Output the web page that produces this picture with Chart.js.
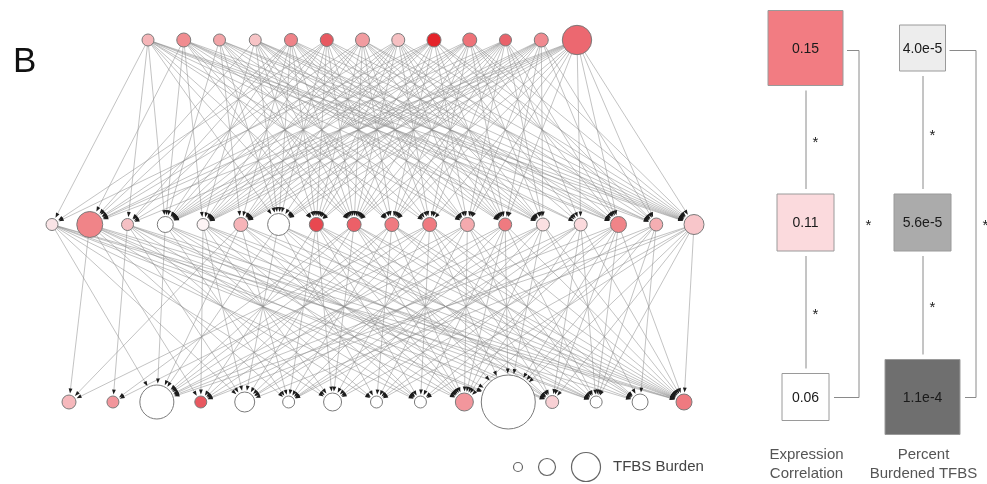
<!DOCTYPE html>
<html>
<head>
<meta charset="utf-8">
<script src="https://cdn.jsdelivr.net/npm/chart.js@4.4.1/dist/chart.umd.min.js"></script>
<style>
  html, body { margin: 0; padding: 0; background: #fff; }
  #wrap { width: 987px; height: 484px; }
</style>
</head>
<body>
<div id="wrap"><canvas id="net" width="987" height="484"></canvas></div>
<script>
// node burden (drawn as bubble radius) per layer
const topBurden = [6, 7, 6, 6, 6.5, 6.5, 7, 6.5, 7, 7, 6, 7, 14.7];
const midBurden = [6, 13, 6, 8, 6, 7, 11, 7, 7, 7, 7, 7, 6.5, 6.5, 6.5, 8, 6.5, 10];
const botBurden = [7, 6, 17, 6, 10, 6, 9, 6, 6, 9, 27, 6.5, 6, 8, 8];

// node fill (expression correlation shade)
const topColors = ['#f5b5b8', '#f08c90', '#f3a5a8', '#f7c4c6', '#ef8288', '#e85860', '#f19ca0',
  '#f6c0c2', '#e4242a', '#ee7278', '#e9626a', '#f08a90', '#ec6870'];
const midColors = ['#fae4e6', '#f08488', '#f5c0c4', '#ffffff', '#fdf4f5', '#f6b4b8', '#ffffff',
  '#e84850', '#ec6068', '#ef7a80', '#ef7a80', '#f4aaae', '#ef7a80', '#fbe0e2', '#fbdadd',
  '#f08488', '#f5aeb2', '#f8c6ca'];
const botColors = ['#f6b8bc', '#f2969c', '#ffffff', '#e85860', '#ffffff', '#ffffff', '#ffffff',
  '#ffffff', '#ffffff', '#f2969c', '#ffffff', '#f8d0d4', '#ffffff', '#ffffff', '#ee7a80'];

// regulatory edges, one string per source node (1 = edge to that target)
const topToMid = [
  '101100111011010111',
  '010110011101011101',
  '000101101110101011',
  '010010111101110111',
  '011101111011110101',
  '101110111101110101',
  '010111011110111011',
  '010111111011110101',
  '101111011101101011',
  '010111101110110111',
  '010111111111011101',
  '000111111101110110',
  '011111101111101111'
];
const midToBot = [
  '001010101011011',
  '100101010110101',
  '010010101001101',
  '001001010101010',
  '000110101010101',
  '101001001100101',
  '001010010101011',
  '000101101101101',
  '011010100111011',
  '001101010100111',
  '101010101011011',
  '010101010101101',
  '001010101110101',
  '001011010110011',
  '000101100101101',
  '001001011011101',
  '000100100110110',
  '001010011011101'
];

// summary panel
const levels = ['top', 'middle', 'bottom'];
const exprCorr = [0.15, 0.11, 0.06];
const pctBurden = [4.0e-5, 5.6e-5, 1.1e-4];
const colLabels = [['Expression', 'Correlation'], ['Percent', 'Burdened TFBS']];

// styles for the panel boxes
const exprBox = { side: [75, 57, 47], fill: ['#f27c82', '#fbdadd', '#ffffff'] };
const pctBox = { side: [46, 57, 75], fill: ['#ededed', '#ababab', '#6f6f6f'] };

const W = 987, H = 484;
// linear axis range so that value v0 lands on pixel p0 and v1 on p1
function span(v0, p0, v1, p1, total) {
  const u = (p1 - p0) / (v1 - v0);
  const min = v0 - p0 / u;
  return { min: min, max: min + total / u };
}
const FONT = '"Liberation Sans", Arial, sans-serif';

function drawEdges(ctx, rows, src, tgt, targetR) {
  const heads = [];
  ctx.save();
  ctx.strokeStyle = 'rgba(140,140,140,0.7)';
  ctx.lineWidth = 0.75;
  rows.forEach((row, i) => {
    const x0 = src.x.getPixelForValue(i), y0 = src.y.getPixelForValue(src.lvl);
    [...row].forEach((c, j) => {
      if (c !== '1') return;
      const x1 = tgt.x.getPixelForValue(j), y1 = tgt.y.getPixelForValue(tgt.lvl);
      const dx = x1 - x0, dy = y1 - y0, L = Math.hypot(dx, dy);
      const ux = dx / L, uy = dy / L;
      const r = targetR[j] + 1.5;
      const ex = x1 - ux * r, ey = y1 - uy * r;
      ctx.beginPath();
      ctx.moveTo(x0, y0);
      ctx.lineTo(ex - ux * 3, ey - uy * 3);
      ctx.stroke();
      heads.push([ex, ey, ux, uy]);
    });
  });
  ctx.fillStyle = '#1c1c1c';
  heads.forEach(([x, y, ux, uy]) => {
    ctx.beginPath();
    ctx.moveTo(x, y);
    ctx.lineTo(x - ux * 5 - uy * 1.9, y - uy * 5 + ux * 1.9);
    ctx.lineTo(x - ux * 5 + uy * 1.9, y - uy * 5 - ux * 1.9);
    ctx.closePath();
    ctx.fill();
  });
  ctx.restore();
}

const edgePlugin = {
  id: 'edges',
  beforeDatasetsDraw(chart) {
    const s = chart.scales;
    const top = { x: s.xt, y: s.y, lvl: 0 };
    const mid = { x: s.xm, y: s.y, lvl: 1 };
    const bot = { x: s.xb, y: s.yb, lvl: 2 };
    drawEdges(chart.ctx, topToMid, top, mid, midBurden);
    drawEdges(chart.ctx, midToBot, mid, bot, botBurden);
  }
};

const panelPlugin = {
  id: 'panel',
  afterDatasetsDraw(chart) {
    const ctx = chart.ctx;
    const xp = chart.scales.xp, yp = chart.scales.yp;
    ctx.save();

    // panel letter
    ctx.fillStyle = '#111';
    ctx.font = '35px ' + FONT;
    ctx.textBaseline = 'alphabetic';
    ctx.textAlign = 'left';
    ctx.fillText('B', 13, 72);

    const cols = [
      { vals: exprCorr.map(v => v.toFixed(2)), box: exprBox },
      { vals: pctBurden.map(v => v.toExponential(1)), box: pctBox }
    ];
    cols.forEach((col, ci) => {
      const cx = xp.getPixelForValue(ci);
      const ys = levels.map((_, k) => yp.getPixelForValue(k));
      const half = col.box.side.map(s => s / 2);

      // values inside boxes
      ctx.font = '14px ' + FONT;
      ctx.textAlign = 'center';
      ctx.textBaseline = 'middle';
      col.vals.forEach((t, k) => {
        ctx.fillStyle = '#1a1a1a';
        ctx.fillText(t, cx, ys[k] + 1);
      });

      // connectors between neighbouring levels
      ctx.strokeStyle = '#8a8a8a';
      ctx.lineWidth = 1;
      for (let k = 0; k < 2; k++) {
        const a = ys[k] + half[k] + 5, b = ys[k + 1] - half[k + 1] - 5;
        ctx.beginPath();
        ctx.moveTo(cx + 0.5, a);
        ctx.lineTo(cx + 0.5, b);
        ctx.stroke();
        ctx.fillStyle = '#222';
        ctx.font = '15px ' + FONT;
        ctx.fillText('*', cx + 10, (a + b) / 2 + 3);
      }
      // bracket top vs bottom
      const bx = cx + 53.5;
      ctx.beginPath();
      ctx.moveTo(cx + half[0] + 4, ys[0] + 2.5);
      ctx.lineTo(bx, ys[0] + 2.5);
      ctx.lineTo(bx, ys[2] + 0.5);
      ctx.lineTo(cx + half[2] + 5, ys[2] + 0.5);
      ctx.stroke();
      ctx.fillText('*', bx + 9.5, (ys[0] + ys[2]) / 2 + 3);

      // column labels
      ctx.fillStyle = '#555';
      ctx.font = '15px ' + FONT;
      ctx.fillText(colLabels[ci][0], cx + 1, 455);
      ctx.fillText(colLabels[ci][1], cx + 1, 474);
    });

    // size legend
    ctx.strokeStyle = '#666';
    ctx.lineWidth = 1.2;
    [[518, 4.5], [547, 8.5], [586, 14.5]].forEach(([x, r]) => {
      ctx.beginPath();
      ctx.arc(x, 467, r, 0, Math.PI * 2);
      ctx.stroke();
    });
    ctx.fillStyle = '#444';
    ctx.font = '15px ' + FONT;
    ctx.textAlign = 'left';
    ctx.fillText('TFBS Burden', 613, 467);
    ctx.restore();
  }
};

const layerData = (burden, lvl) => burden.map((r, i) => ({ x: i, y: lvl, r: r }));
const boxData = (col) => levels.map((_, k) => ({ x: col, y: k }));

const nodeStyle = {
  type: 'bubble',
  borderColor: '#7a7a7a',
  borderWidth: 1,
  hoverRadius: 0
};

new Chart(document.getElementById('net').getContext('2d'), {
  data: {
    datasets: [
      Object.assign({ label: 'top', data: layerData(topBurden, 0), backgroundColor: topColors, xAxisID: 'xt', yAxisID: 'y' }, nodeStyle),
      Object.assign({ label: 'middle', data: layerData(midBurden, 1), backgroundColor: midColors, xAxisID: 'xm', yAxisID: 'y' }, nodeStyle),
      Object.assign({ label: 'bottom', data: layerData(botBurden, 2), backgroundColor: botColors, xAxisID: 'xb', yAxisID: 'yb' }, nodeStyle),
      {
        type: 'scatter', label: 'Expression Correlation', data: boxData(0),
        xAxisID: 'xp', yAxisID: 'yp', pointStyle: 'rect',
        pointRadius: exprBox.side.map(s => s / Math.SQRT2),
        pointHoverRadius: exprBox.side.map(s => s / Math.SQRT2),
        backgroundColor: exprBox.fill, borderColor: '#9a9a9a', borderWidth: 1
      },
      {
        type: 'scatter', label: 'Percent Burdened TFBS', data: boxData(1),
        xAxisID: 'xp', yAxisID: 'yp', pointStyle: 'rect',
        pointRadius: pctBox.side.map(s => s / Math.SQRT2),
        pointHoverRadius: pctBox.side.map(s => s / Math.SQRT2),
        backgroundColor: pctBox.fill, borderColor: '#9a9a9a', borderWidth: 1
      }
    ]
  },
  options: {
    responsive: false,
    animation: false,
    events: [],
    layout: { padding: 0, autoPadding: false },
    plugins: { legend: { display: false }, tooltip: { enabled: false } },
    scales: {
      xt: Object.assign({ type: 'linear', display: false }, span(0, 148, 12, 577, W)),
      xm: Object.assign({ type: 'linear', display: false }, span(0, 52, 17, 694, W)),
      xb: Object.assign({ type: 'linear', display: false }, span(0, 69, 14, 684, W)),
      xp: Object.assign({ type: 'linear', display: false }, span(0, 805.5, 1, 922.5, W)),
      y: Object.assign({ type: 'linear', display: false, reverse: true }, span(0, 40, 1, 224.5, H)),
      yb: Object.assign({ type: 'linear', display: false, reverse: true }, span(1, 224.5, 2, 402, H)),
      yp: Object.assign({ type: 'linear', display: false, reverse: true }, span(0, 48, 2, 397, H))
    }
  },
  plugins: [edgePlugin, panelPlugin]
});
</script>
</body>
</html>
